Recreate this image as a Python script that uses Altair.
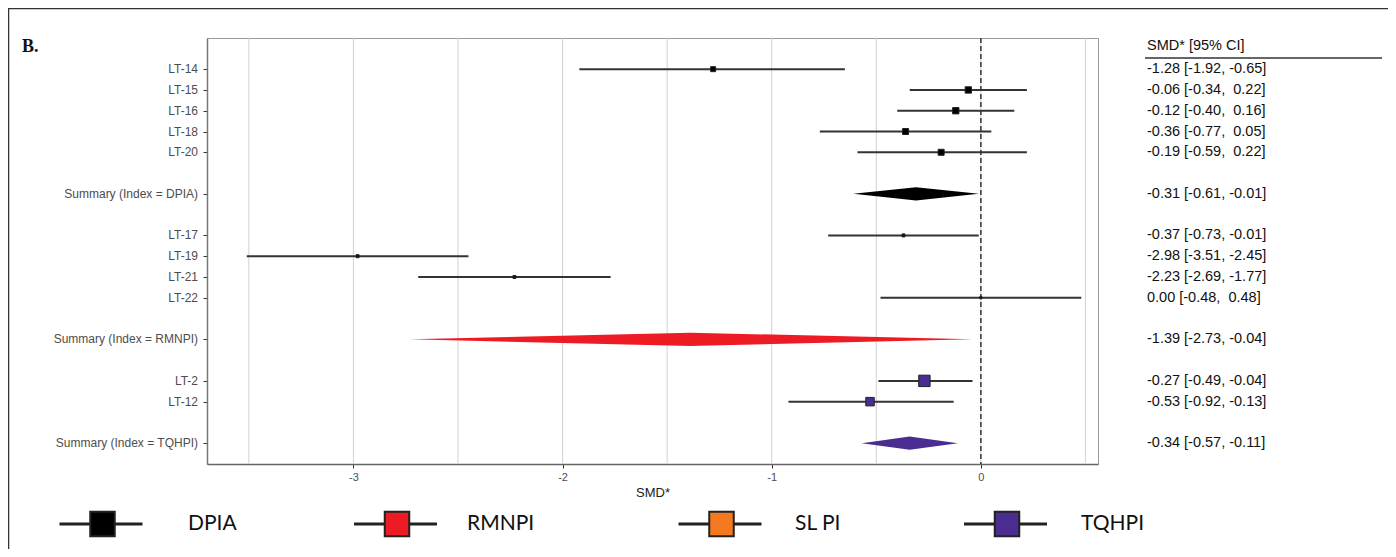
import altair as alt
import pandas as pd

# ---------------- data ----------------
NAMES = ["LT-14", "LT-15", "LT-16", "LT-18", "LT-20", "Summary (Index = DPIA)",
         "LT-17", "LT-19", "LT-21", "LT-22", "Summary (Index = RMNPI)",
         "LT-2", "LT-12", "Summary (Index = TQHPI)"]
ROWS = [1, 2, 3, 4, 5, 7, 9, 10, 11, 12, 14, 16, 17, 19]
EST = [-1.28, -0.06, -0.12, -0.36, -0.19, -0.31, -0.37, -2.98, -2.23, 0.00, -1.39, -0.27, -0.53, -0.34]
LO = [-1.92, -0.34, -0.40, -0.77, -0.59, -0.61, -0.73, -3.51, -2.69, -0.48, -2.73, -0.49, -0.92, -0.57]
HI = [-0.65, 0.22, 0.16, 0.05, 0.22, -0.01, -0.01, -2.45, -1.77, 0.48, -0.04, -0.04, -0.13, -0.11]
GROUPS = ["DPIA"] * 6 + ["RMNPI"] * 5 + ["TQHPI"] * 3
KINDS = ["study"] * 5 + ["summary"] + ["study"] * 4 + ["summary"] + ["study"] * 2 + ["summary"]
WEIGHTS = [25, 40, 40, 36, 36, None, 9, 9, 9, 5, None, 130, 72, None]

COLOR_KEYS = ["DPIA study", "RMNPI study", "TQHPI study",
              "DPIA summary", "RMNPI summary", "TQHPI summary"]
COLOR_VALUES = ["#000000", "#111111", "#4b2c91", "#000000", "#ed1c24", "#4b2c91"]

GRID_VALUES = [-3.5, -3, -2.5, -2, -1.5, -1, -0.5, 0, 0.5]
TICK_VALUES = [-3, -2, -1, 0]
ZERO_LINE = [0]

HEADER = "SMD* [95% CI]"
PANEL_TAG = "B."

LEGEND_NAMES = ["DPIA", "RMNPI", "SL PI", "TQHPI"]
LEGEND_COLORS = ["#000000", "#ed1c24", "#f47920", "#4b2c91"]

# ---------------- layout ----------------
W, H = 891, 426
X_DOMAIN = [-3.70, 0.56]
Y_DOMAIN = [-0.5, 20]
DIAMOND_HALF = 0.32
LEGEND_CENTER_X = [-104.5, 190, 514.5, 800]
LEGEND_TEXT_X = [-19, 260, 588, 874]
LEGEND_Y = 486


def fmt(v):
    s = f"{v:.2f}"
    return s if v < 0 else "\u00a0" + s


CI = [f"{fmt(e)} [{fmt(l)}, {fmt(h)}]" for e, l, h in zip(EST, LO, HI)]

df = pd.DataFrame({"label": NAMES, "row": ROWS, "est": EST, "lo": LO, "hi": HI,
                   "group": GROUPS, "kind": KINDS, "weight": WEIGHTS, "ci": CI,
                   "ckey": [g + " " + k for g, k in zip(GROUPS, KINDS)]})

diamond_records = []
for r, e, l, h, g, k in zip(ROWS, EST, LO, HI, GROUPS, KINDS):
    if k == "summary":
        key = g + " " + k
        diamond_records += [
            {"dx": l, "ya": r, "yb": r, "ckey": key},
            {"dx": e, "ya": r - DIAMOND_HALF, "yb": r + DIAMOND_HALF, "ckey": key},
            {"dx": h, "ya": r, "yb": r, "ckey": key},
        ]
ddf = pd.DataFrame(diamond_records)

xs = alt.Scale(domain=X_DOMAIN, nice=False, zero=False)
ys = alt.Scale(domain=Y_DOMAIN, reverse=True, nice=False, zero=False)
cs = alt.Scale(domain=COLOR_KEYS, range=COLOR_VALUES)

x_axis = alt.Axis(values=TICK_VALUES, grid=False, tickSize=4, tickColor="#333", tickWidth=1,
                  domainColor="#666", domainWidth=1.5, labelFontSize=11, labelColor="#4d4d4d",
                  labelPadding=3, labelExpr="'' + datum.value", title="SMD*", titleFontSize=13,
                  titleFontWeight="normal", titleColor="#222", titlePadding=4)
y_axis = alt.Axis(values=ROWS, labels=False, grid=False, tickSize=4, tickColor="#333",
                  tickWidth=1, domainColor="#777", domainWidth=1.5, title=None)


def X(field):
    return alt.X(field, scale=xs, axis=x_axis, title="SMD*")


def Y(field, **kw):
    return alt.Y(field, scale=ys, axis=y_axis, title=None, **kw)


base = alt.Chart(df)
studies = base.transform_filter(alt.datum.kind == "study")

grid = alt.Chart(pd.DataFrame({"v": GRID_VALUES})).mark_rule(color="#d2d2d2", strokeWidth=1).encode(
    x=X("v:Q"))

bars = studies.mark_rule(color="#333333", strokeWidth=2).encode(
    x=X("lo:Q"), x2="hi:Q", y=Y("row:Q"))

diamonds = alt.Chart(ddf).mark_area(orient="vertical", opacity=1, interpolate="linear").encode(
    x=X("dx:Q"), y=Y("ya:Q"), y2="yb:Q",
    color=alt.Color("ckey:N", scale=cs, legend=None))

zero = alt.Chart(pd.DataFrame({"z": ZERO_LINE})).mark_rule(
    strokeDash=[5, 3], color="#333333", strokeWidth=1.5).encode(x=X("z:Q"))

squares = studies.mark_square(stroke="#222222", strokeWidth=1, opacity=1).encode(
    x=X("est:Q"), y=Y("row:Q"),
    size=alt.Size("weight:Q", scale=alt.Scale(domain=[0, 130], range=[0, 130]), legend=None),
    color=alt.Color("ckey:N", scale=cs, legend=None))

left_labels = base.mark_text(align="right", baseline="middle", fontSize=12, color="#4d4d4d").encode(
    x=alt.value(-9), y=Y("row:Q"), text="label:N")

right_text = base.mark_text(align="left", baseline="middle", fontSize=14.5, color="#111111").encode(
    x=alt.value(940), y=Y("row:Q"), text="ci:N")

one = pd.DataFrame({"t": [HEADER]})
header = alt.Chart(one).mark_text(align="left", baseline="middle", fontSize=14.5, color="#111111").encode(
    x=alt.value(940), y=alt.value(8), text="t:N")
underline = alt.Chart(one).mark_rule(color="#333333", strokeWidth=1.5).encode(
    x=alt.value(938), x2=alt.value(1175), y=alt.value(20))

tag = alt.Chart(pd.DataFrame({"t": [PANEL_TAG]})).mark_text(
    align="left", baseline="middle", font="Liberation Serif", fontWeight="bold", fontSize=18,
    color="#111111").encode(x=alt.value(-185), y=alt.value(9), text="t:N")

border_left = alt.Chart(one).mark_rule(color="#333333", strokeWidth=1.5).encode(
    x=alt.value(-198.5), y=alt.value(-29.5), y2=alt.value(520))
border_top = alt.Chart(one).mark_rule(color="#333333", strokeWidth=1.5).encode(
    x=alt.value(-199), x2=alt.value(1190), y=alt.value(-29.5))

layers = [grid, bars, diamonds, zero, squares, left_labels, right_text, header, underline,
          tag, border_left, border_top]

for name, col, cx, tx in zip(LEGEND_NAMES, LEGEND_COLORS, LEGEND_CENTER_X, LEGEND_TEXT_X):
    ldf = pd.DataFrame({"name": [name]})
    lc = alt.Chart(ldf)
    layers.append(lc.mark_rule(color="#222222", strokeWidth=3).encode(
        x=alt.value(cx - 43), x2=alt.value(cx + 40), y=alt.value(LEGEND_Y)))
    layers.append(lc.mark_square(size=600, opacity=1, stroke="#222222", strokeWidth=2, fill=col).encode(
        x=alt.value(cx), y=alt.value(LEGEND_Y)))
    layers.append(lc.mark_text(align="left", baseline="middle", font="Lato", fontSize=21,
                               color="#111111").encode(
        x=alt.value(tx), y=alt.value(LEGEND_Y), text="name:N"))

chart = alt.layer(*layers).properties(
    width=W, height=H,
    autosize=alt.AutoSizeParams(type="none"),
    padding={"left": 199, "top": 30, "right": 290, "bottom": 85},
).configure(font="Liberation Sans").configure_view(stroke="#999999", strokeWidth=1)

chart.save("out.html", embed_options={"renderer": "svg", "actions": False})
